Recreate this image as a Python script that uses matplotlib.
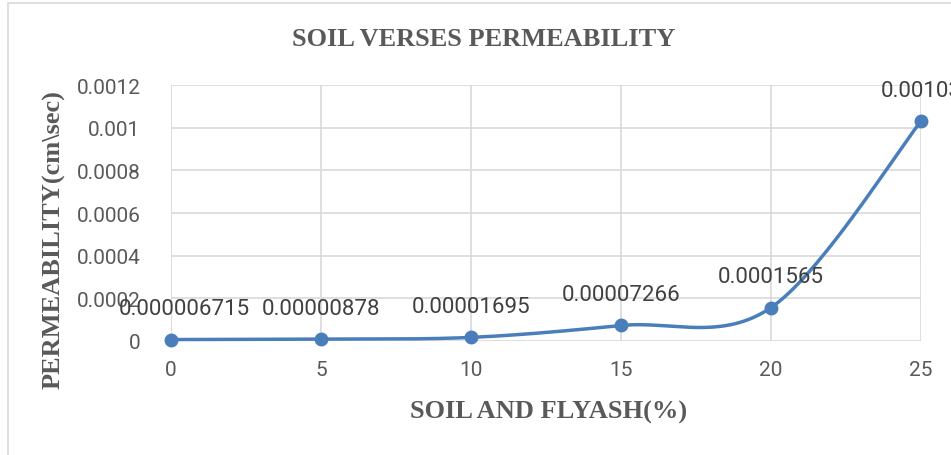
import numpy as np
import matplotlib
matplotlib.use("Agg")
import matplotlib.pyplot as plt
from matplotlib.patches import Rectangle

# data
flyash = [0, 5, 10, 15, 20, 25]
perm = [0.000006715, 0.00000878, 0.00001695, 0.00007266, 0.0001565, 0.00103]
labels = ["0.000006715", "0.00000878", "0.00001695", "0.00007266", "0.0001565", "0.00103"]
yticks = [0, 0.0002, 0.0004, 0.0006, 0.0008, 0.001, 0.0012]
ytick_labels = ["0", "0.0002", "0.0004", "0.0006", "0.0008", "0.001", "0.0012"]

BLUE = "#4A7EBB"
GRAY = "#595959"
GRID = "#D9D9D9"
SANS = ["Roboto", "DejaVu Sans"]
SERIF = ["Liberation Serif", "DejaVu Serif"]


def smooth(x, y, n=40):
    # excel style smoothed line: cubic bezier, control points from neighbours / 6
    x = np.asarray(x, float)
    y = np.asarray(y, float)
    px = np.concatenate([[x[0]], x, [x[-1]]])
    py = np.concatenate([[y[0]], y, [y[-1]]])
    xs, ys = [], []
    t = np.linspace(0, 1, n)
    for i in range(len(x) - 1):
        p0 = np.array([px[i + 1], py[i + 1]])
        p3 = np.array([px[i + 2], py[i + 2]])
        c1 = p0 + (np.array([px[i + 2], py[i + 2]]) - np.array([px[i], py[i]])) / 6
        c2 = p3 - (np.array([px[i + 3], py[i + 3]]) - np.array([px[i + 1], py[i + 1]])) / 6
        b = ((1 - t) ** 3)[:, None] * p0 + (3 * (1 - t) ** 2 * t)[:, None] * c1 \
            + (3 * (1 - t) * t ** 2)[:, None] * c2 + (t ** 3)[:, None] * p3
        xs.extend(b[:, 0])
        ys.extend(b[:, 1])
    return np.array(xs), np.array(ys)


fig = plt.figure(figsize=(9.51, 4.56), dpi=100)
fig.patches.append(Rectangle((8 / 951, -0.1), 1.2, (456 - 3.5) / 456 + 0.1,
                             transform=fig.transFigure, fill=False,
                             edgecolor="#D9D9D9", linewidth=1.2))
ax = fig.add_axes([171 / 951, 1 - 342 / 456, 750 / 951, 256 / 456])

sx, sy = smooth(flyash, perm)
ax.plot(sx, sy, color=BLUE, linewidth=2.5, zorder=3, clip_on=False)
ax.plot(flyash, perm, "o", color=BLUE, markersize=9, zorder=4, clip_on=False)

offsets = [13, 0, 0, 0, 0, 0]
for x, y, lab, dx in zip(flyash, perm, labels, offsets):
    ax.annotate(lab, (x, y), xytext=(dx, 31), textcoords="offset pixels",
                ha="center", va="center", fontsize=16, color="#404040",
                family=SANS, annotation_clip=False, zorder=5)

ax.set_xlim(0, 25)
ax.set_ylim(0, 0.0012)
ax.set_xticks(flyash)
ax.set_xticklabels([str(v) for v in flyash], family=SANS, fontsize=15, color=GRAY)
ax.set_yticks(yticks)
ax.set_yticklabels(ytick_labels, family=SANS, fontsize=15, color=GRAY)
ax.tick_params(length=0, pad=22)
ax.tick_params(axis="x", pad=14)
ax.grid(True, color=GRID, linewidth=1.2)
ax.set_axisbelow(True)
for s in ax.spines.values():
    s.set_visible(False)

fig.text(484 / 951, 1 - 39 / 456, "SOIL VERSES PERMEABILITY", family=SERIF,
         fontweight="bold", fontsize=19, color=GRAY, ha="center", va="center")
fig.text(549 / 951, 1 - 412 / 456, "SOIL AND FLYASH(%)", family=SERIF,
         fontweight="bold", fontsize=19, color=GRAY, ha="center", va="center")
fig.text(54 / 951, 1 - 240 / 456, "PERMEABILITY(cm\\sec)", family=SERIF,
         fontweight="bold", fontsize=19, color=GRAY, ha="center", va="center",
         rotation=90)

fig.savefig("out.png", dpi=100)
